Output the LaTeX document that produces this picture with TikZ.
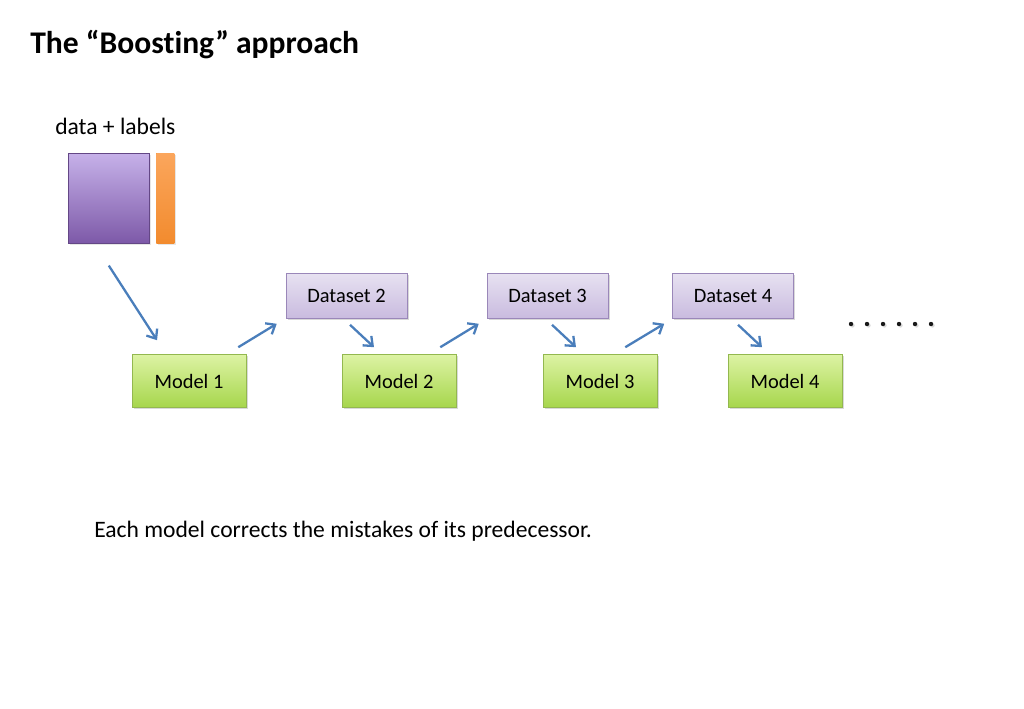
\documentclass[tikz,border=0pt]{standalone}
\usepackage{fontspec}
\setmainfont[Ligatures={NoCommon,NoContextual}]{Carlito}
\usetikzlibrary{arrows.meta, shadows}

\definecolor{modeltop}{HTML}{DDF3A4}
\definecolor{modelbot}{HTML}{A6D64C}
\definecolor{modelline}{HTML}{93B84F}
\definecolor{settop}{HTML}{E7E1F1}
\definecolor{setbot}{HTML}{C9BBDF}
\definecolor{setline}{HTML}{9A87B9}
\definecolor{datatop}{HTML}{C6B1E9}
\definecolor{databot}{HTML}{7D59A8}
\definecolor{labtop}{HTML}{FBA65C}
\definecolor{labbot}{HTML}{F28B2E}
\definecolor{arrowblue}{HTML}{4A7EBB}

\begin{document}
\begin{tikzpicture}[
    x=0.7pt, y=-0.7pt,
    modelbox/.style={rectangle, draw=modelline, top color=modeltop, bottom color=modelbot, inner sep=0pt, minimum width=79.8pt, minimum height=37.1pt, font=\fontsize{14.3}{17}\selectfont, drop shadow={opacity=0.3, shadow xshift=1.2pt, shadow yshift=-1.4pt}},
    setbox/.style={rectangle, draw=setline, top color=settop, bottom color=setbot, inner sep=0pt, minimum width=84.7pt, minimum height=31.5pt, font=\fontsize{14.3}{17}\selectfont, drop shadow={opacity=0.3, shadow xshift=1.2pt, shadow yshift=-1.4pt}},
    arrow/.style={-{Straight Barb[length=5.5pt, width=9pt]}, line width=1.6pt, arrowblue, line join=round},
    txt/.style={font=\fontsize{16.5}{19}\selectfont, inner sep=0pt},
]
\useasboundingbox (0,0) rectangle (1024,709);

% Title and caption
\node[txt, anchor=base west, font=\fontsize{22.1}{26}\selectfont\bfseries] (title) at (30,54) {The “Boosting” approach};
\node[txt, anchor=base west] (datalabel) at (55,135) {data + labels};
\node[txt, anchor=base west] (caption) at (94,537) {Each model corrects the mistakes of its predecessor.};

% Training data
\node[rectangle, draw=databot!80!black, thin, top color=datatop, bottom color=databot, inner sep=0pt, minimum width=56.7pt, minimum height=63pt, anchor=north west, drop shadow={opacity=0.2, shadow xshift=1pt, shadow yshift=-1pt}] (data) at (68,153) {};
\node[rectangle, fill=labbot, top color=labtop, bottom color=labbot, inner sep=0pt, minimum width=12.6pt, minimum height=63pt, anchor=north west, drop shadow={opacity=0.2, shadow xshift=1pt, shadow yshift=-1pt}] (labels) at (156,153) {};

% Models
\node[modelbox] (m1) at (189,381) {Model 1};
\node[modelbox] (m2) at (399,381) {Model 2};
\node[modelbox] (m3) at (600,381) {Model 3};
\node[modelbox] (m4) at (785,381) {Model 4};

% Reweighted datasets
\node[setbox] (d2) at (346.5,296) {Dataset 2};
\node[setbox] (d3) at (547.5,296) {Dataset 3};
\node[setbox] (d4) at (733,296) {Dataset 4};

% Arrows
\draw[arrow] ([shift={(0,22)}]data.south) -- ([shift={(-32,-14)}]m1.north);
\draw[arrow] ([shift={(-8,-7)}]m1.north east) -- ([shift={(-9,5)}]d2.south west);
\draw[arrow] ([shift={(3.5,6)}]d2.south) -- ([shift={(-25,-7)}]m2.north);
\draw[arrow] ([shift={(-16,-7)}]m2.north east) -- ([shift={(-8,5)}]d3.south west);
\draw[arrow] ([shift={(4.5,6)}]d3.south) -- ([shift={(-24,-7)}]m3.north);
\draw[arrow] ([shift={(-32,-7)}]m3.north east) -- ([shift={(-8,5)}]d4.south west);
\draw[arrow] ([shift={(5,6)}]d4.south) -- ([shift={(-23,-7)}]m4.north);

% Continuation dots
\foreach \i in {0,...,5}
  \fill[black!90, drop shadow={opacity=0.3, shadow xshift=1pt, shadow yshift=-1pt}] (851+16*\i,324) circle (2.2);
\end{tikzpicture}
\end{document}
